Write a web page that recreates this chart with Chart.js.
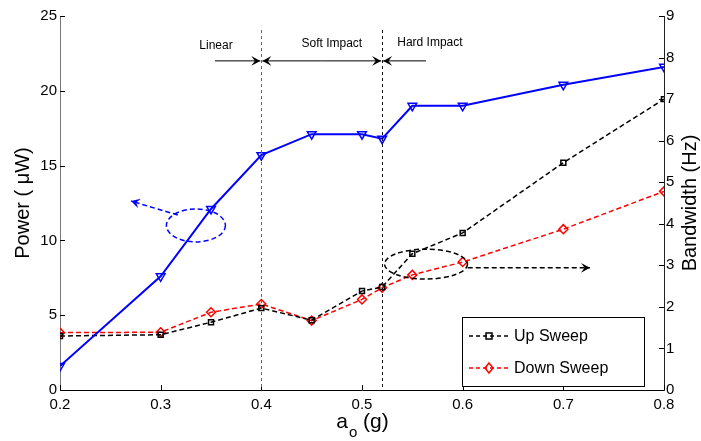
<!DOCTYPE html>
<html>
<head>
<meta charset="utf-8">
<script src="https://cdn.jsdelivr.net/npm/chart.js@4.4.1/dist/chart.umd.min.js"></script>
<style>
  html, body { margin: 0; padding: 0; background: #fff; }
  #wrap { width: 701px; height: 441px; }
</style>
</head>
<body>
<div id="wrap"><canvas id="powerChart" width="701" height="441"></canvas></div>
<script>
// base acceleration amplitude a_o (g)
const aValues = [0.2, 0.3, 0.35, 0.4, 0.45, 0.5, 0.52, 0.55, 0.6, 0.7, 0.8];
// harvested power (uW), left axis
const powerUW = [1.6, 7.6, 12.1, 15.7, 17.1, 17.1, 16.8, 19.0, 19.0, 20.4, 21.6];
// bandwidth (Hz), right axis
const upSweepHz = [1.3, 1.33, 1.63, 1.97, 1.68, 2.38, 2.48, 3.28, 3.78, 5.47, 7.0];
const downSweepHz = [1.38, 1.39, 1.87, 2.07, 1.67, 2.18, 2.46, 2.77, 3.08, 3.87, 4.78];

const xTicks = [0.2, 0.3, 0.4, 0.5, 0.6, 0.7, 0.8];
const powerTicks = [0, 5, 10, 15, 20, 25];
const bandwidthTicks = [0, 1, 2, 3, 4, 5, 6, 7, 8, 9];

// regime boundaries and their labels
const regimeBounds = [0.4, 0.52];
const regimeLabels = ['Linear', 'Soft Impact', 'Hard Impact'];

const FONT = '"Liberation Sans", Arial, Helvetica, sans-serif';

const toPoints = (ys) => aValues.map((x, i) => ({ x: x, y: ys[i] }));

function arrowHead(ctx, x, y, angle, size) {
    ctx.save();
    ctx.translate(x, y);
    ctx.rotate(angle);
    ctx.beginPath();
    ctx.moveTo(0, 0);
    ctx.lineTo(-size, -size * 0.55);
    ctx.lineTo(-size * 0.6, 0);
    ctx.lineTo(-size, size * 0.55);
    ctx.closePath();
    ctx.fill();
    ctx.restore();
}

function arrow(ctx, x1, y1, x2, y2, color, dash, width) {
    ctx.save();
    ctx.strokeStyle = color;
    ctx.fillStyle = color;
    ctx.lineWidth = width;
    ctx.setLineDash(dash);
    ctx.beginPath();
    ctx.moveTo(x1, y1);
    ctx.lineTo(x2, y2);
    ctx.stroke();
    ctx.setLineDash([]);
    arrowHead(ctx, x2, y2, Math.atan2(y2 - y1, x2 - x1), 9);
    ctx.restore();
}

// annotations, inward ticks, axis titles and legend
const decorations = {
    id: 'decorations',
    afterDatasetsDraw(chart) {
        const ctx = chart.ctx;
        const xs = chart.scales.x, yl = chart.scales.y, yr = chart.scales.y1;
        const area = chart.chartArea;

        // inward tick marks
        ctx.save();
        ctx.strokeStyle = '#000';
        ctx.lineWidth = 1;
        ctx.beginPath();
        xTicks.forEach(v => {
            const px = Math.round(xs.getPixelForValue(v)) + 0.5;
            ctx.moveTo(px, area.bottom); ctx.lineTo(px, area.bottom - 5);
        });
        powerTicks.forEach(v => {
            const py = Math.round(yl.getPixelForValue(v)) + 0.5;
            ctx.moveTo(area.left, py); ctx.lineTo(area.left + 5, py);
        });
        bandwidthTicks.forEach(v => {
            const py = Math.round(yr.getPixelForValue(v)) + 0.5;
            ctx.moveTo(area.right, py); ctx.lineTo(area.right - 5, py);
        });
        ctx.stroke();
        ctx.restore();

        // regime boundaries
        ctx.save();
        ctx.lineWidth = 1;
        ctx.setLineDash([3, 3]);
        regimeBounds.forEach((b, i) => {
            const px = Math.round(xs.getPixelForValue(b)) + 0.5;
            ctx.strokeStyle = i === 0 ? '#666' : '#111';
            ctx.beginPath();
            ctx.moveTo(px, area.top + 14);
            ctx.lineTo(px, area.bottom);
            ctx.stroke();
        });
        ctx.restore();

        const ay = yl.getPixelForValue(22.0);
        const b0 = xs.getPixelForValue(regimeBounds[0]);
        const b1 = xs.getPixelForValue(regimeBounds[1]);
        arrow(ctx, xs.getPixelForValue(0.354), ay, b0 - 1, ay, '#000', [], 1);
        arrow(ctx, (b0 + b1) / 2, ay, b0 + 1, ay, '#000', [], 1);
        arrow(ctx, (b0 + b1) / 2, ay, b1 - 1, ay, '#000', [], 1);
        arrow(ctx, xs.getPixelForValue(0.5636), ay, b1 + 1, ay, '#000', [], 1);

        ctx.save();
        ctx.fillStyle = '#000';
        ctx.font = '12px ' + FONT;
        ctx.textAlign = 'center';
        ctx.textBaseline = 'middle';
        ctx.fillText(regimeLabels[0], xs.getPixelForValue(0.355), yl.getPixelForValue(23.0));
        ctx.fillText(regimeLabels[1], xs.getPixelForValue(0.470), yl.getPixelForValue(23.15));
        ctx.fillText(regimeLabels[2], xs.getPixelForValue(0.5675), yl.getPixelForValue(23.2));
        ctx.restore();

        // ellipse marking each curve group, arrow towards its axis
        ctx.save();
        ctx.lineWidth = 1.5;
        ctx.setLineDash([5, 3]);
        ctx.strokeStyle = '#0000ff';
        const bx = xs.getPixelForValue(0.335), by = yl.getPixelForValue(11.0);
        ctx.beginPath();
        ctx.ellipse(bx, by, xs.getPixelForValue(0.3643) - bx, by - yl.getPixelForValue(12.1), 0, 0, Math.PI * 2);
        ctx.stroke();
        ctx.strokeStyle = '#000';
        const kx = xs.getPixelForValue(0.5636), ky = yr.getPixelForValue(3.03);
        ctx.beginPath();
        ctx.ellipse(kx, ky, xs.getPixelForValue(0.6048) - kx, ky - yr.getPixelForValue(3.39), 0, 0, Math.PI * 2);
        ctx.stroke();
        ctx.restore();

        arrow(ctx, xs.getPixelForValue(0.317), yl.getPixelForValue(11.7),
            xs.getPixelForValue(0.2705), yl.getPixelForValue(12.63), '#0000ff', [5, 3], 1.5);
        arrow(ctx, xs.getPixelForValue(0.605), yr.getPixelForValue(2.94),
            xs.getPixelForValue(0.7265), yr.getPixelForValue(2.94), '#000', [5, 3], 1.5);

        // axis titles
        ctx.save();
        ctx.fillStyle = '#000';
        ctx.font = '20px ' + FONT;
        ctx.textAlign = 'center';
        ctx.textBaseline = 'middle';
        const midY = (area.top + area.bottom) / 2;
        ctx.save();
        ctx.translate(23, midY);
        ctx.rotate(-Math.PI / 2);
        ctx.fillText('Power ( \u03bcW)', 0, 0);
        ctx.restore();
        ctx.save();
        ctx.translate(690, midY);
        ctx.rotate(-Math.PI / 2);
        ctx.fillText('Bandwidth (Hz)', 0, 0);
        ctx.restore();

        // a_o (g) with subscript
        ctx.textAlign = 'left';
        ctx.textBaseline = 'alphabetic';
        ctx.font = '21px ' + FONT;
        const aW = ctx.measureText('a').width;
        ctx.font = '15px ' + FONT;
        const oW = ctx.measureText('o').width;
        ctx.font = '21px ' + FONT;
        const gW = ctx.measureText(' (g)').width;
        let tx = (area.left + area.right) / 2 - (aW + oW + gW) / 2;
        ctx.fillText('a', tx, 428);
        ctx.font = '15px ' + FONT;
        ctx.fillText('o', tx + aW + 1, 437);
        ctx.font = '21px ' + FONT;
        ctx.fillText(' (g)', tx + aW + oW + 1, 428);
        ctx.restore();

        // legend box
        ctx.save();
        const lx = 462, ly = 317, lw = 182, lh = 69;
        ctx.fillStyle = '#fff';
        ctx.fillRect(lx, ly, lw, lh);
        ctx.strokeStyle = '#000';
        ctx.lineWidth = 1;
        ctx.strokeRect(lx + 0.5, ly + 0.5, lw, lh);
        ctx.font = '16px ' + FONT;
        ctx.textBaseline = 'middle';
        chart.data.datasets.slice(1).forEach((ds, i) => {
            const yy = ly + 19 + i * 32;
            ctx.strokeStyle = ds.borderColor;
            ctx.lineWidth = 1.5;
            ctx.setLineDash([4, 3]);
            ctx.beginPath();
            ctx.moveTo(lx + 7, yy); ctx.lineTo(lx + 48, yy);
            ctx.stroke();
            ctx.setLineDash([]);
            ctx.lineWidth = 1.5;
            const mx = lx + 27;
            ctx.beginPath();
            if (ds.pointStyle === 'rect') {
                ctx.rect(mx - 3, yy - 3, 6, 6);
            } else {
                ctx.moveTo(mx, yy - 5); ctx.lineTo(mx + 4, yy); ctx.lineTo(mx, yy + 5); ctx.lineTo(mx - 4, yy); ctx.closePath();
            }
            ctx.stroke();
            ctx.fillStyle = '#000';
            ctx.fillText(ds.label, lx + 52, yy + 1);
        });
        ctx.restore();
    }
};

const tickFont = { family: FONT, size: 15 };

new Chart(document.getElementById('powerChart'), {
    type: 'line',
    data: {
        datasets: [{
            label: 'Power',
            data: toPoints(powerUW),
            yAxisID: 'y',
            borderColor: '#0000ff',
            backgroundColor: 'rgba(0,0,0,0)',
            borderWidth: 2,
            pointStyle: 'triangle',
            rotation: 180,
            pointRadius: 5,
            pointBorderWidth: 1.5,
            pointBorderColor: '#0000ff',
            pointBackgroundColor: 'rgba(0,0,0,0)',
            tension: 0
        }, {
            label: 'Up Sweep',
            data: toPoints(upSweepHz),
            yAxisID: 'y1',
            borderColor: '#000000',
            backgroundColor: 'rgba(0,0,0,0)',
            borderWidth: 1.5,
            borderDash: [5, 3],
            pointStyle: 'rect',
            pointRadius: 3.5,
            pointBorderWidth: 1.5,
            pointBorderColor: '#000000',
            pointBackgroundColor: 'rgba(0,0,0,0)',
            tension: 0
        }, {
            label: 'Down Sweep',
            data: toPoints(downSweepHz),
            yAxisID: 'y1',
            borderColor: '#ff0000',
            backgroundColor: 'rgba(0,0,0,0)',
            borderWidth: 1.5,
            borderDash: [5, 3],
            pointStyle: 'rectRot',
            pointRadius: 4.5,
            pointBorderWidth: 1.5,
            pointBorderColor: '#ff0000',
            pointBackgroundColor: 'rgba(0,0,0,0)',
            tension: 0
        }]
    },
    options: {
        responsive: false,
        animation: false,
        layout: { padding: { top: 16 } },
        plugins: {
            legend: { display: false },
            tooltip: { enabled: false }
        },
        scales: {
            x: {
                type: 'linear',
                min: 0.2,
                max: 0.8,
                afterFit: (s) => { s.height = 51; },
                afterBuildTicks: (s) => { s.ticks = xTicks.map(v => ({ value: v })); },
                border: { color: '#000', width: 1 },
                grid: { display: false, drawTicks: false },
                ticks: {
                    color: '#000',
                    font: tickFont,
                    padding: 6,
                    maxRotation: 0,
                    callback: (v) => v.toFixed(1)
                }
            },
            y: {
                type: 'linear',
                position: 'left',
                min: 0,
                max: 25,
                afterFit: (s) => { s.width = 60; },
                afterBuildTicks: (s) => { s.ticks = powerTicks.map(v => ({ value: v })); },
                border: { color: '#777', width: 1 },
                grid: { display: false, drawTicks: false },
                ticks: { color: '#000', font: tickFont, padding: 3 }
            },
            y1: {
                type: 'linear',
                position: 'right',
                min: 0,
                max: 9,
                afterFit: (s) => { s.width = 37; },
                afterBuildTicks: (s) => { s.ticks = bandwidthTicks.map(v => ({ value: v })); },
                border: { color: '#222', width: 1 },
                grid: { display: false, drawTicks: false },
                ticks: { color: '#000', font: tickFont, padding: 2 }
            }
        }
    },
    plugins: [decorations]
});
</script>
</body>
</html>
